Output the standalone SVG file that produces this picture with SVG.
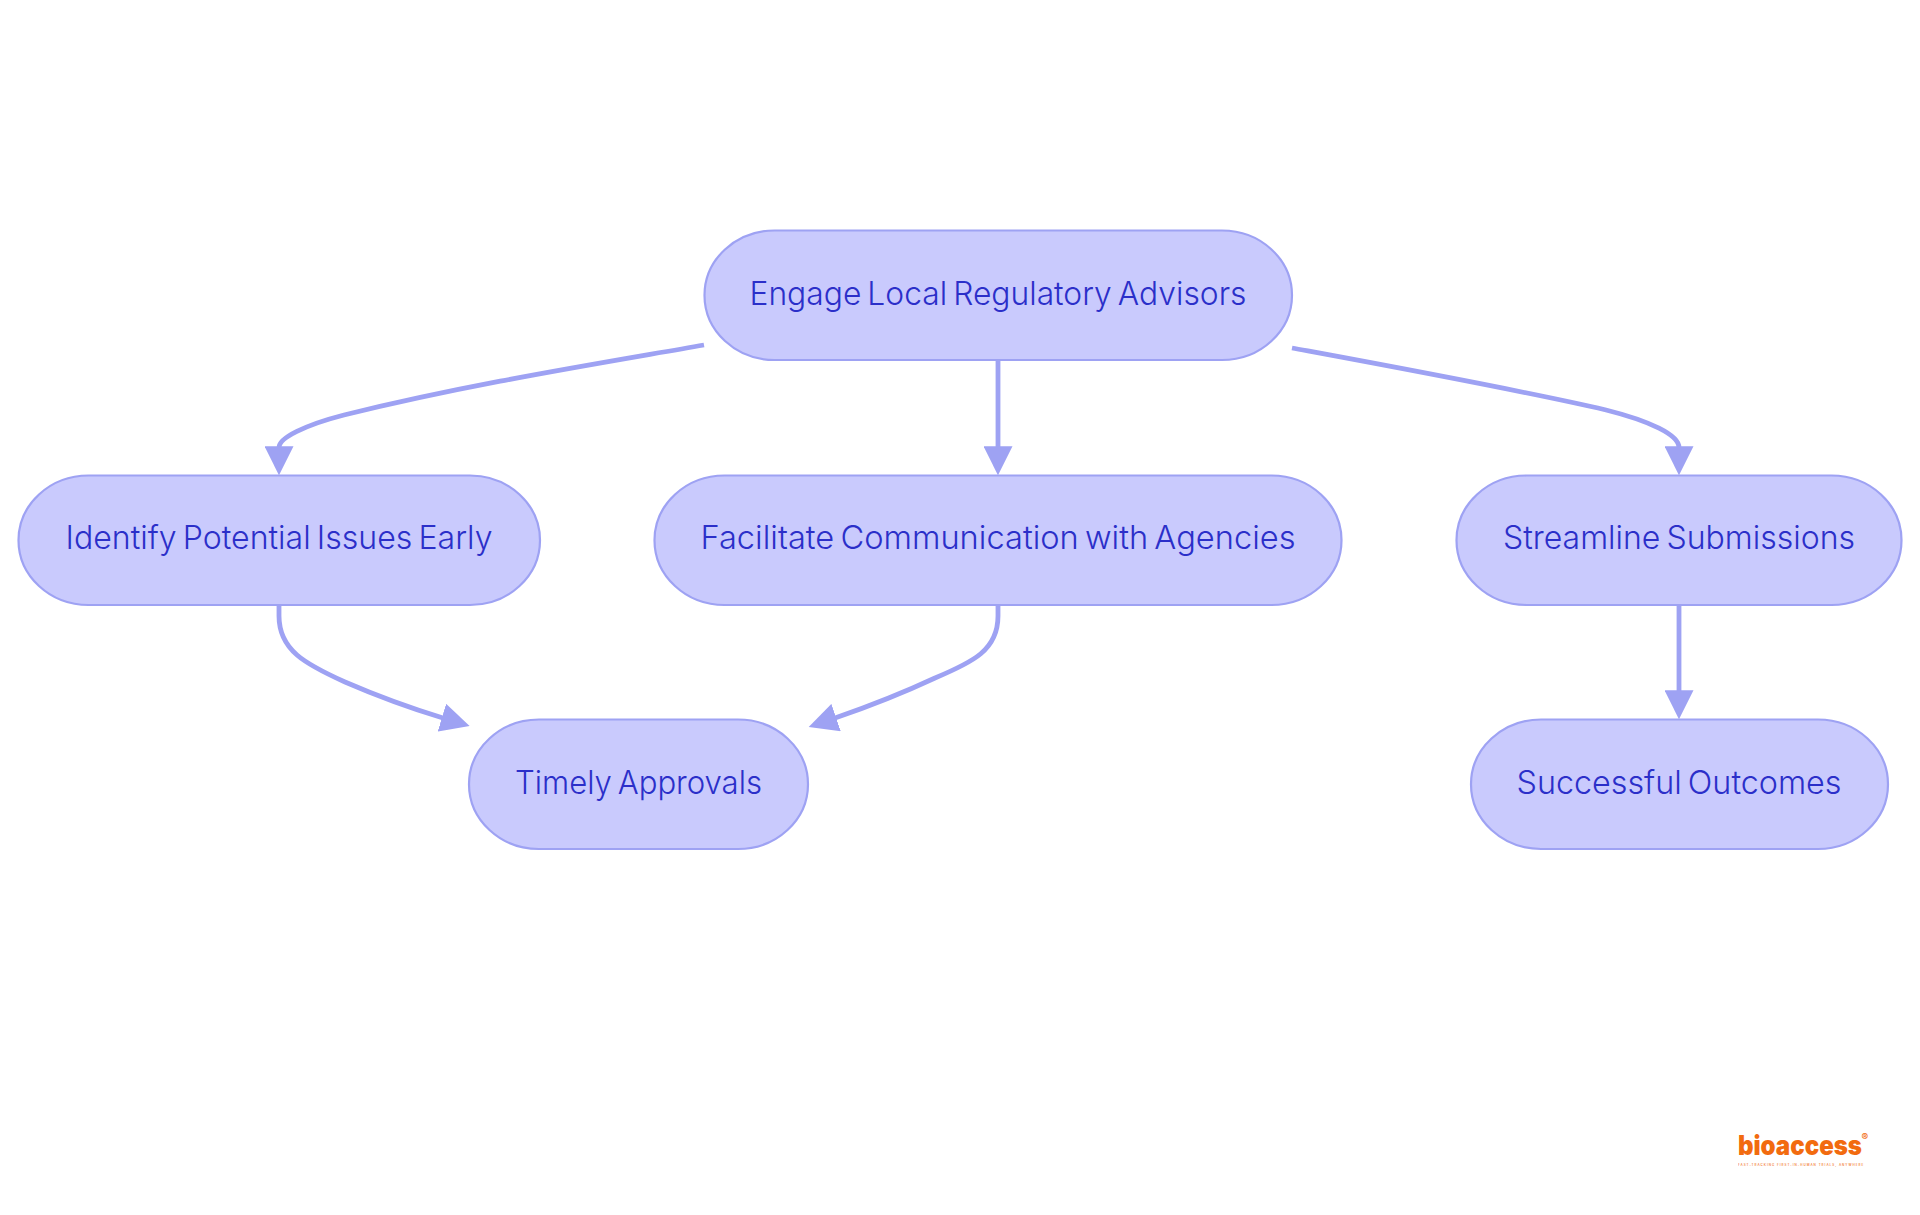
<svg xmlns="http://www.w3.org/2000/svg" width="1920" height="1215" viewBox="0 0 1920 1215">
<style>
.bg{fill:#ffffff}
.node rect{fill:#c9cafd;stroke:#9ea2f3;stroke-width:2.2}
.node text{font-family:"Inter","Noto Sans","Liberation Sans",sans-serif;font-size:33px;font-weight:300;word-spacing:-3px;fill:#2b2fc9;text-anchor:middle}
.edge{fill:none;stroke:#9ea2f3;stroke-width:4.8}
.logo{font-family:"Inter","Liberation Sans",sans-serif;fill:#f26b0f}
</style>
<defs>
<marker id="arrow" markerUnits="userSpaceOnUse" viewBox="0 0 10 10" refX="0.4" refY="5" markerWidth="29" markerHeight="29" orient="auto">
<path d="M0,0 L10,5 L0,10 z" fill="#9ea2f3"/>
</marker>
</defs>
<rect class="bg" width="1920" height="1215"/>
<g id="connectors">
<path class="edge" marker-end="url(#arrow)" d="M704,345 C590,365 470,384 344,415 C305,425 279,438 279,447.5"/>
<path class="edge" marker-end="url(#arrow)" d="M998,360 L998,447.5"/>
<path class="edge" marker-end="url(#arrow)" d="M1292,348 C1400,368 1520,390 1606,410 C1650,421 1679,435 1679,447.5"/>
<path class="edge" marker-end="url(#arrow)" d="M279,605 L279,616 C279,650 305,664 345,682 C375,695 410,708 443,718"/>
<path class="edge" marker-end="url(#arrow)" d="M998,605 L998,616 C998,650 973,662 935,678 C905,692 870,706 835,718"/>
<path class="edge" marker-end="url(#arrow)" d="M1679,605 L1679,691.5"/>
</g>
<g id="node-engage" class="node">
<rect x="704.5" y="230.5" width="587.5" height="129.5" rx="70" ry="65"/>
<text x="998" y="305" textLength="497" lengthAdjust="spacingAndGlyphs">Engage Local Regulatory Advisors</text>
</g>
<g id="node-identify" class="node">
<rect x="18.5" y="475.5" width="521.5" height="129.5" rx="70" ry="65"/>
<text x="279" y="549" textLength="427" lengthAdjust="spacingAndGlyphs">Identify Potential Issues Early</text>
</g>
<g id="node-facilitate" class="node">
<rect x="654.5" y="475.5" width="687" height="129.5" rx="70" ry="65"/>
<text x="998" y="549" textLength="595" lengthAdjust="spacingAndGlyphs">Facilitate Communication with Agencies</text>
</g>
<g id="node-streamline" class="node">
<rect x="1456.5" y="475.5" width="445" height="129.5" rx="70" ry="65"/>
<text x="1679" y="549" textLength="352" lengthAdjust="spacingAndGlyphs">Streamline Submissions</text>
</g>
<g id="node-timely" class="node">
<rect x="469" y="719.5" width="339" height="129.5" rx="70" ry="65"/>
<text x="638.5" y="794" textLength="247" lengthAdjust="spacingAndGlyphs">Timely Approvals</text>
</g>
<g id="node-successful" class="node">
<rect x="1471" y="719.5" width="417" height="129.5" rx="70" ry="65"/>
<text x="1679" y="794" textLength="325" lengthAdjust="spacingAndGlyphs">Successful Outcomes</text>
</g>
<g id="logo">
<text class="logo" transform="translate(1738,1155) scale(0.89,1)" font-size="27" font-weight="900">bioaccess</text>
<text class="logo" x="1861.5" y="1141" font-size="10" font-weight="600">®</text>
<text class="logo" x="1738" y="1165.5" font-size="3" font-weight="600" letter-spacing="1" opacity="0.85">FAST-TRACKING FIRST-IN-HUMAN TRIALS, ANYWHERE</text>
</g>
</svg>
